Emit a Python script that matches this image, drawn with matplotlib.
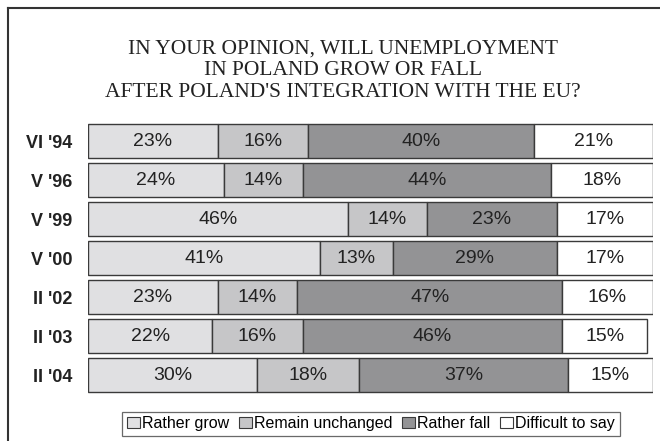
import matplotlib.pyplot as plt
from matplotlib.lines import Line2D
from matplotlib.patches import Patch

# Survey waves and answer shares (%)
waves = ["VI '94", "V '96", "V '99", "V '00", "II '02", "II '03", "II '04"]
rather_grow = [23, 24, 46, 41, 23, 22, 30]
remain_unchanged = [16, 14, 14, 13, 14, 16, 18]
rather_fall = [40, 44, 23, 29, 47, 46, 37]
difficult_to_say = [21, 18, 17, 17, 16, 15, 15]

series = [
    ("Rather grow", rather_grow, "#e0e0e2"),
    ("Remain unchanged", remain_unchanged, "#c6c6c8"),
    ("Rather fall", rather_fall, "#939395"),
    ("Difficult to say", difficult_to_say, "#ffffff"),
]

fig = plt.figure(figsize=(6.6, 4.41), dpi=100)
ax = fig.add_axes([0.1333, 0.1054, 0.8557, 0.619])

y = list(range(len(waves)))
left = [0] * len(waves)
for name, vals, color in series:
    ax.barh(y, vals, left=left, height=0.85, color=color,
            edgecolor="#3a3a3a", linewidth=1.0, label=name)
    for yi, l, v in zip(y, left, vals):
        ax.text(l + v / 2, yi, f"{v}%", ha="center", va="center",
                fontsize=14, color="#222222", family="Liberation Sans")
    left = [l + v for l, v in zip(left, vals)]

ax.set_xlim(0, 100)
ax.set_ylim(len(waves) - 0.5, -0.5)
ax.set_xticks([])
ax.set_yticks(y)
ax.set_yticklabels(waves, fontsize=13, fontweight="bold",
                   family="Liberation Sans", color="#222222")
ax.tick_params(axis="y", length=0, pad=11)
for s in ax.spines.values():
    s.set_visible(False)

fig.text(0.52, 0.84,
         "IN YOUR OPINION, WILL UNEMPLOYMENT\nIN POLAND GROW OR FALL\n"
         "AFTER POLAND'S INTEGRATION WITH THE EU?",
         ha="center", va="center", fontsize=15.5, family="Liberation Serif",
         color="#222222", linespacing=1.2)

handles = [Patch(facecolor=c, edgecolor="#3a3a3a", linewidth=0.8, label=n)
           for n, _, c in series]
leg = fig.legend(handles=handles, loc="center", bbox_to_anchor=(0.562, 0.039),
                 ncol=4, frameon=True, fancybox=False,
                 handlelength=0.8, handleheight=0.7, handletextpad=0.15,
                 columnspacing=0.6, borderpad=0.3,
                 prop={"family": "Liberation Sans", "size": 11.5})
leg.get_frame().set_edgecolor("#444444")
leg.get_frame().set_linewidth(0.9)

# outer frame (top and left edges only)
fig.add_artist(Line2D([0.012, 1.0], [0.982, 0.982], color="#333333", lw=1.5))
fig.add_artist(Line2D([0.012, 0.012], [0.0, 0.982], color="#333333", lw=1.5))

fig.savefig("out.png", dpi=100)
